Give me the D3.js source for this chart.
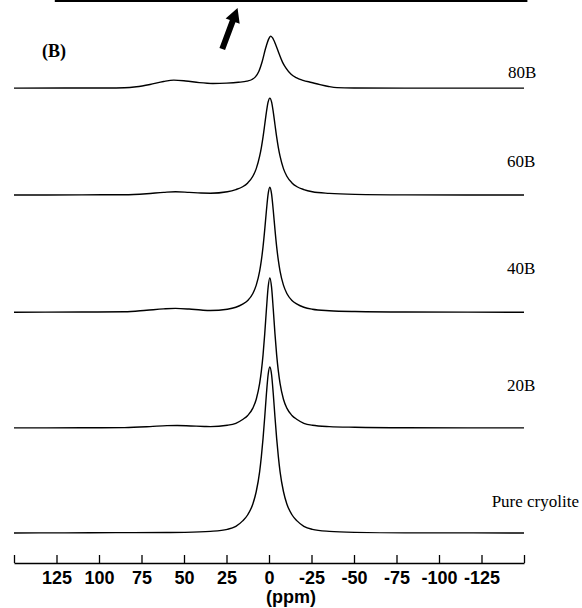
<!DOCTYPE html>
<html>
<head>
<meta charset="utf-8">
<script src="https://cdn.jsdelivr.net/npm/d3@7"></script>
<style>
  body { margin: 0; background: #fff; }
  .tick text { font-family: "Liberation Sans", Arial, sans-serif; font-weight: bold; font-size: 18px; }
  .trace-label { font-family: "Liberation Serif", "Times New Roman", serif; font-size: 17px; }
</style>
</head>
<body>
<div id="chart"></div>
<script>
// 19F MAS spectra, intensity in arbitrary units (pure cryolite peak = 100)
const sampleNames = ['80B', '60B', '40B', '20B', 'Pure cryolite'];
const stackOffsets = [268, 203.6, 133, 63.3, 0];

const spec80B = [
  [150, 0], [120, 0.1], [95, 0.1], [85, 0.2], [78, 0.8], [70, 2.2], [62, 4.0], [56, 4.8], [49, 4.3],
  [41, 3.3], [33, 2.8], [25, 3.0], [18, 3.5], [13, 4.2], [10, 5.2], [8, 6.8], [6, 10], [4, 16],
  [2, 24], [0, 30], [-1, 31.3], [-2, 30.4], [-4, 26], [-6, 20.5], [-8, 15.5], [-10, 12], [-13, 8.3],
  [-16, 6.3], [-20, 4.7], [-25, 3.4], [-30, 2.1], [-35, 1.0], [-40, 0.3], [-50, 0.1], [-80, 0], [-150, 0]
];
const spec60B = [
  [150, 0], [110, 0.1], [85, 0.2], [72, 0.8], [62, 1.6], [55, 2.0], [47, 1.6], [40, 1.2], [34.5, 1.1],
  [24.5, 2.0], [19.5, 3.3], [15.5, 5.0], [12.5, 7.3], [9.5, 11.3], [7.5, 15.9], [5.5, 23.4], [4.5, 28.6],
  [3.5, 35], [2.5, 42.5], [1.5, 50.1], [0.5, 56.1], [-0.5, 58.4], [-1.5, 56.1], [-2.5, 50.1], [-3.5, 42.5],
  [-4.5, 35], [-5.5, 28.6], [-6.5, 23.4], [-8.5, 15.9], [-10.5, 11.3], [-13.5, 7.3], [-16.5, 5.0],
  [-20.5, 3.3], [-25.5, 2.0], [-35.5, 1.0], [-50.5, 0.4], [-80, 0.1], [-150, 0]
];
const spec40B = [
  [150, 0], [110, 0.1], [85, 0.3], [72, 1.2], [62, 2.0], [55, 2.3], [47, 1.9], [40, 1.3], [34.5, 1.0],
  [24.5, 1.8], [19.5, 3.0], [15.5, 4.9], [12.5, 7.1], [9.5, 11.3], [7.5, 16.3], [5.5, 24.8], [4.5, 31.2],
  [3.5, 39.5], [2.5, 49.9], [1.5, 61.4], [0.5, 71.3], [-0.5, 75.3], [-1.5, 71.3], [-2.5, 61.4], [-3.5, 49.9],
  [-4.5, 39.5], [-5.5, 31.2], [-6.5, 24.8], [-8.5, 16.3], [-10.5, 11.3], [-13.5, 7.1], [-16.5, 4.9],
  [-20.5, 3.0], [-25.5, 1.8], [-35.5, 0.9], [-50.5, 0.4], [-80, 0.1], [-150, 0]
];
const spec20B = [
  [150, 0], [110, 0.1], [85, 0.2], [70, 0.8], [60, 1.4], [54, 1.5], [46, 1.2], [38, 0.9], [34.5, 0.8],
  [24.5, 1.6], [19.5, 2.8], [15.5, 5.1], [12.5, 7.5], [9.5, 11.9], [7.5, 17.3], [5.5, 26.8], [4.5, 34.2],
  [3.5, 44], [2.5, 56.8], [1.5, 71.6], [0.5, 84.8], [-0.5, 90.4], [-1.5, 84.8], [-2.5, 71.6], [-3.5, 56.8],
  [-4.5, 44], [-5.5, 34.2], [-6.5, 26.8], [-8.5, 17.3], [-10.5, 11.9], [-13.5, 7.5], [-16.5, 5.1],
  [-20.5, 2.8], [-25.5, 1.6], [-35.5, 0.8], [-50.5, 0.4], [-80, 0.1], [-150, 0]
];
const specPure = [
  [150, 0], [120, 0.1], [90, 0.2], [60, 0.3], [49.5, 0.4], [34.5, 1.0], [24.5, 2.2], [19.5, 4.0],
  [15.5, 7.3], [12.5, 11], [9.5, 17.5], [7.5, 25], [5.5, 37], [4.5, 46], [3.5, 57], [2.5, 70],
  [1.5, 84], [0.5, 95.5], [-0.5, 100], [-1.5, 95.5], [-2.5, 84], [-3.5, 70], [-4.5, 57], [-5.5, 46],
  [-6.5, 37], [-8.5, 25], [-10.5, 17.5], [-13.5, 11], [-16.5, 7.3], [-20.5, 4.0], [-25.5, 2.2],
  [-35.5, 1.0], [-50.5, 0.4], [-80, 0.1], [-120, 0.1], [-150, 0]
];
const spectra = [spec80B, spec60B, spec40B, spec20B, specPure];

const tickValues = [150, 125, 100, 75, 50, 25, 0, -25, -50, -75, -100, -125, -150];
const tickLabels = ['', '125', '100', '75', '50', '25', '0', '-25', '-50', '-75', '-100', '-125', ''];

const width = 582, height = 608;
const axisY = 563;

const svg = d3.select('#chart')
  .append('svg')
  .attr('width', width)
  .attr('height', height);

const x = d3.scaleLinear()
  .domain([150, -150])
  .range([14, 524]);

const y = d3.scaleLinear()
  .domain([0, 100])
  .range([533, 367]);

const line = d3.line()
  .x(d => x(d[0]))
  .y(d => d[1])
  .curve(d3.curveMonotoneX);

// stacked traces, each shifted up by its offset
svg.append('g')
  .selectAll('path')
  .data(spectra)
  .enter()
  .append('path')
  .attr('d', (d, i) => line(d.map(p => [p[0], y(p[1] + stackOffsets[i])])))
  .attr('fill', 'none')
  .attr('stroke', '#000')
  .attr('stroke-width', 1.4)
  .attr('stroke-linejoin', 'round');

// sample names, placed above each baseline (the long one is right-aligned)
const labelX = [508, 507, 507, 507, 579];
const labelLift = [6, 17, 23, 22, 15.5];
svg.append('g')
  .selectAll('text')
  .data(sampleNames)
  .enter()
  .append('text')
  .attr('class', 'trace-label')
  .attr('x', (d, i) => labelX[i])
  .attr('y', (d, i) => y(stackOffsets[i] + labelLift[i]))
  .attr('text-anchor', (d, i) => i === sampleNames.length - 1 ? 'end' : 'start')
  .text(d => d);

// ppm axis, ticks pointing up
const axis = svg.append('g')
  .attr('transform', `translate(0,${axisY})`)
  .call(d3.axisBottom(x)
    .tickValues(tickValues)
    .tickFormat((d, i) => tickLabels[i])
    .tickSizeInner(-8)
    .tickSizeOuter(0)
    .tickPadding(8));
axis.select('.domain').attr('stroke-width', 1.3);
axis.selectAll('.tick line').attr('stroke-width', 1.3);
axis.selectAll('.tick text').attr('fill', '#000');

svg.append('text')
  .attr('x', x(0) + 22)
  .attr('y', 603)
  .attr('text-anchor', 'middle')
  .style('font-family', '"Liberation Sans", Arial, sans-serif')
  .style('font-weight', 'bold')
  .style('font-size', '18px')
  .text('(ppm)');

// panel letter
svg.append('text')
  .attr('x', 42)
  .attr('y', 57)
  .style('font-family', '"Liberation Serif", "Times New Roman", serif')
  .style('font-weight', 'bold')
  .style('font-size', '18px')
  .text('(B)');

// edge of the panel above
svg.append('line')
  .attr('x1', x(126))
  .attr('x2', x(-152))
  .attr('y1', 1)
  .attr('y2', 1)
  .attr('stroke', '#000')
  .attr('stroke-width', 2);

// thick arrow
function arrowPath(x0, y0, x1, y1, shaft, head, headLen) {
  const len = Math.hypot(x1 - x0, y1 - y0);
  const ux = (x1 - x0) / len, uy = (y1 - y0) / len;
  const nx = -uy, ny = ux;
  const bx = x1 - ux * headLen, by = y1 - uy * headLen;
  const pts = [
    [x0 + nx * shaft, y0 + ny * shaft],
    [bx + nx * shaft, by + ny * shaft],
    [bx + nx * head, by + ny * head],
    [x1, y1],
    [bx - nx * head, by - ny * head],
    [bx - nx * shaft, by - ny * shaft],
    [x0 - nx * shaft, y0 - ny * shaft]
  ];
  return 'M' + pts.map(p => p.join(',')).join('L') + 'Z';
}
svg.append('path')
  .attr('d', arrowPath(x(27.5), 49, x(18.5), 8, 3, 7.5, 14))
  .attr('fill', '#000');
</script>
</body>
</html>
